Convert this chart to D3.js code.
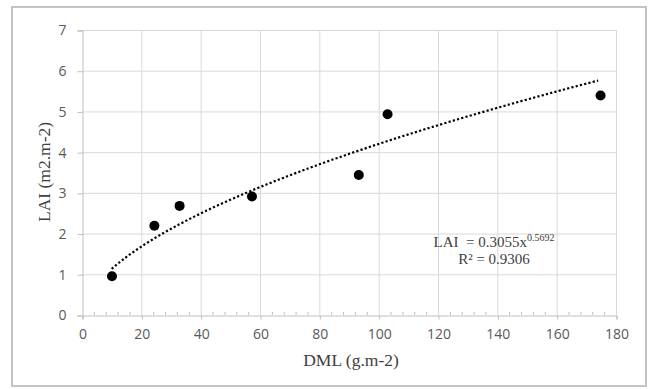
<!DOCTYPE html>
<html><head><meta charset="utf-8">
<script src="https://cdn.jsdelivr.net/npm/d3@7/dist/d3.min.js"></script>
<style>body{margin:0;background:#fff}svg{display:block}</style>
</head><body>
<script>
const dml = [10.1, 24.4, 32.9, 57.3, 93.3, 103.0, 174.8];
const lai = [0.95, 2.19, 2.68, 2.91, 3.44, 4.93, 5.39];
const xTicks = [0, 20, 40, 60, 80, 100, 120, 140, 160, 180];
const yTicks = [0, 1, 2, 3, 4, 5, 6, 7];
const fitA = 0.3055, fitB = 0.5692;
const fitRange = [10, 174];
const eqLine1 = "LAI \u00a0= 0.3055x";
const eqSup = "0.5692";
const eqLine2 = "R² = 0.9306";

const W = 653, H = 389;
const svg = d3.select("body").append("svg").attr("width", W).attr("height", H);
svg.append("rect").attr("x", 0).attr("y", 0).attr("width", W).attr("height", H).attr("fill", "#fff");
svg.append("rect").attr("x", 12).attr("y", 7).attr("width", 634).attr("height", 379)
  .attr("fill", "#fff").attr("stroke", "#c3c3c3").attr("stroke-width", 2);

const x = d3.scaleLinear().domain([0, 180]).range([82, 616]);
const y = d3.scaleLinear().domain([0, 7]).range([315, 30]);

// gridlines
svg.append("g").selectAll("line").data(xTicks.slice(1)).join("line")
  .attr("x1", d => x(d) + 0.5).attr("x2", d => x(d) + 0.5)
  .attr("y1", y(7)).attr("y2", y(0))
  .attr("stroke", "#d9d9d9").attr("stroke-width", 1);
svg.append("g").selectAll("line").data(yTicks.slice(1)).join("line")
  .attr("x1", x(0)).attr("x2", x(180))
  .attr("y1", d => y(d) + 0.5).attr("y2", d => y(d) + 0.5)
  .attr("stroke", "#d9d9d9").attr("stroke-width", 1);

const fontTick = "'Open Sans', sans-serif";
// x axis
const xAxis = svg.append("g").attr("transform", `translate(0.5,${y(0) + 0.5})`)
  .call(d3.axisBottom(x).tickValues(xTicks).tickSize(4).tickPadding(10).tickFormat(d3.format("d")));
xAxis.attr("font-size", 14).attr("font-family", fontTick);
xAxis.select(".domain").attr("stroke", "#bfbfbf");
xAxis.selectAll(".tick line").attr("stroke", "#bfbfbf");
xAxis.selectAll("text").attr("font-family", fontTick).attr("font-size", 14).attr("fill", "#595959");
// minor ticks (inside)
const minor = d3.range(0, 181, 4).filter(v => v % 20 !== 0);
svg.append("g").selectAll("line").data(minor).join("line")
  .attr("x1", d => x(d) + 0.5).attr("x2", d => x(d) + 0.5)
  .attr("y1", y(0) - 3).attr("y2", y(0))
  .attr("stroke", "#bfbfbf");

// y axis
const yAxis = svg.append("g").attr("transform", `translate(${x(0) + 0.5},0.5)`)
  .call(d3.axisLeft(y).tickValues(yTicks).tickSize(5).tickPadding(11).tickFormat(d3.format("d")));
yAxis.attr("font-size", 14).attr("font-family", fontTick);
yAxis.select(".domain").attr("stroke", "#bfbfbf");
yAxis.selectAll(".tick line").attr("stroke", "#bfbfbf");
yAxis.selectAll("text").attr("font-family", fontTick).attr("font-size", 14).attr("fill", "#595959");

// axis titles
const serif = "'Liberation Serif', 'Times New Roman', serif";
svg.append("text").attr("x", 351).attr("y", 366).attr("text-anchor", "middle")
  .attr("font-family", serif).attr("font-size", 17.5).attr("fill", "#404040").text("DML (g.m-2)");
svg.append("text").attr("transform", `translate(50,172) rotate(-90)`).attr("text-anchor", "middle")
  .attr("font-family", serif).attr("font-size", 17.5).attr("fill", "#404040").text("LAI (m2.m-2)");

// trendline
const fitX = d3.range(fitRange[0], fitRange[1] + 0.01, 0.5);
const line = d3.line().x(d => x(d)).y(d => y(fitA * Math.pow(d, fitB)));
svg.append("path").datum(fitX).attr("d", line).attr("fill", "none")
  .attr("stroke", "#000").attr("stroke-width", 2.2).attr("stroke-dasharray", "2.2,2.2");

// points
svg.append("g").selectAll("circle").data(dml.map((d, i) => [d, lai[i]])).join("circle")
  .attr("cx", d => x(d[0])).attr("cy", d => y(d[1])).attr("r", 5).attr("fill", "#000");

// equation
const eq = svg.append("text").attr("x", 494).attr("y", 247).attr("text-anchor", "middle")
  .attr("font-family", serif).attr("font-size", 15).attr("fill", "#404040");
eq.append("tspan").text(eqLine1);
eq.append("tspan").attr("font-size", 10).attr("dy", -6).text(eqSup);
svg.append("text").attr("x", 494).attr("y", 264).attr("text-anchor", "middle")
  .attr("font-family", serif).attr("font-size", 15).attr("fill", "#404040").text(eqLine2);
</script>
</body></html>
